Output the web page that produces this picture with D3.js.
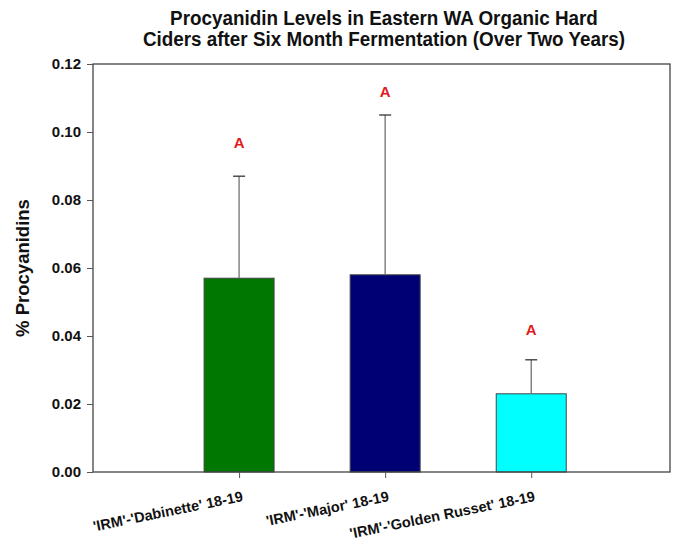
<!DOCTYPE html>
<html>
<head>
<meta charset="utf-8">
<script src="https://cdn.jsdelivr.net/npm/d3@7"></script>
<style>
  body { margin: 0; background: #fff; }
  text { font-family: Arial, "Liberation Sans", sans-serif; }
</style>
</head>
<body>
<svg id="chart" width="685" height="544"></svg>
<script>
// Cider procyanidin means, upper error bars and significance letters
const categories = ["'IRM'-'Dabinette' 18-19", "'IRM'-'Major' 18-19", "'IRM'-'Golden Russet' 18-19"];
const means = [0.057, 0.058, 0.023];
const errorTops = [0.087, 0.105, 0.033];
const letters = ["A", "A", "A"];
const letterValues = [0.097, 0.112, 0.0418];
const barColors = ["#007700", "#000075", "#00ffff"];
const yTicks = [0, 0.02, 0.04, 0.06, 0.08, 0.10, 0.12];

const svg = d3.select("#chart");
const plotLeft = 93, plotRight = 670, plotTop = 64, plotBottom = 472;

const y = d3.scaleLinear().domain([0, 0.12]).range([plotBottom, plotTop]);
const x = d3.scaleLinear().domain([0, 3.95]).range([plotLeft, plotRight]);
const barW = 70;

// Title (slightly condensed bold face)
const title = svg.append("g").attr("transform", "translate(384,0) scale(0.92,1)")
  .append("text")
  .attr("text-anchor", "middle")
  .attr("font-size", 20.5).attr("font-weight", "bold").attr("fill", "#111");
title.append("tspan").attr("x", 0).attr("y", 25).text("Procyanidin Levels in Eastern WA Organic Hard");
title.append("tspan").attr("x", 0).attr("y", 46).text("Ciders after Six Month Fermentation (Over Two Years)");

// Bars
svg.append("g").selectAll("rect").data(means).join("rect")
  .attr("x", (d, i) => x(i + 1) - barW / 2)
  .attr("y", d => y(d))
  .attr("width", barW)
  .attr("height", d => y(0) - y(d))
  .attr("fill", (d, i) => barColors[i])
  .attr("stroke", "#444").attr("stroke-width", 1);

// Upper error bars
const eb = svg.append("g").attr("stroke", "#707070").attr("stroke-width", 1.3);
errorTops.forEach((t, i) => {
  const cx = x(i + 1);
  eb.append("line").attr("x1", cx).attr("x2", cx).attr("y1", y(means[i])).attr("y2", y(t));
  eb.append("line").attr("x1", cx - 6).attr("x2", cx + 6).attr("y1", y(t)).attr("y2", y(t)).attr("stroke", "#333");
});

// Significance letters
svg.append("g").selectAll("text").data(letters).join("text")
  .attr("x", (d, i) => x(i + 1))
  .attr("y", (d, i) => y(letterValues[i]) + 5.5)
  .attr("text-anchor", "middle")
  .attr("font-size", 15).attr("font-weight", "bold").attr("fill", "#e01b1b")
  .text(d => d);

// Frame
svg.append("rect").attr("x", plotLeft).attr("y", plotTop)
  .attr("width", plotRight - plotLeft).attr("height", plotBottom - plotTop)
  .attr("fill", "none").attr("stroke", "#444").attr("stroke-width", 1.3);

// Y axis
const yAxis = svg.append("g").attr("transform", `translate(${plotLeft},0)`)
  .call(d3.axisLeft(y).tickValues(yTicks).tickFormat(d3.format(".2f")).tickSize(6).tickPadding(6));
yAxis.select(".domain").remove();
yAxis.selectAll("line").attr("stroke", "#555");
yAxis.selectAll("text").attr("font-size", 15).attr("font-weight", "bold").attr("fill", "#111")
  .attr("font-family", "Arial, 'Liberation Sans', sans-serif");

// X axis ticks and rotated category labels
const xAxis = svg.append("g").attr("transform", `translate(0,${plotBottom})`)
  .call(d3.axisBottom(x).tickValues([1, 2, 3]).tickFormat((d) => categories[d - 1]).tickSize(6));
xAxis.select(".domain").remove();
xAxis.selectAll("line").attr("stroke", "#555");
xAxis.selectAll("text")
  .attr("font-size", 14.5).attr("font-weight", "bold").attr("fill", "#111")
  .attr("font-family", "Arial, 'Liberation Sans', sans-serif")
  .attr("text-anchor", "end")
  .attr("x", 0).attr("y", 0).attr("dy", 0)
  .attr("transform", "translate(4,29) rotate(-11.5)");

// Y axis title
svg.append("text")
  .attr("transform", "translate(29,268) rotate(-90)")
  .attr("text-anchor", "middle")
  .attr("font-size", 18.5).attr("font-weight", "bold").attr("fill", "#111")
  .text("% Procyanidins");
</script>
</body>
</html>
